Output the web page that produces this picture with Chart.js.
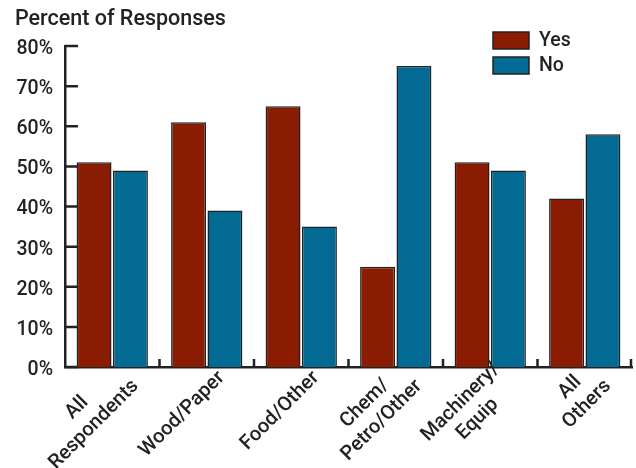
<!DOCTYPE html>
<html>
<head>
<meta charset="utf-8">
<script src="https://cdn.jsdelivr.net/npm/chart.js@4.4.0/dist/chart.umd.min.js"></script>
<style>
  html, body { margin: 0; padding: 0; background: #fff; }
  #caixa { width: 636px; height: 468px; }
</style>
</head>
<body>
<div id="caixa"><canvas id="mychart"></canvas></div>
<script>

let categorias = [['All', 'Respondents'], ['Wood/Paper'], ['Food/Other'], ['Chem/', 'Petro/Other'], ['Machinery/', 'Equip'], ['All', 'Others']];
let sim = [51, 61, 65, 25, 51, 42];
let nao = [49, 39, 35, 75, 49, 58];
let y_max = 80;
let y_passo = 10;

let fonte = 'Roboto, "Liberation Sans", Arial, sans-serif';
let cor_texto = '#222';

// marcas internas, rotulos inclinados, titulo e legenda
const extras = {
    id: 'extras',
    afterDraw(chart) {
        let c = chart.ctx;
        let x = chart.scales.x;
        let y = chart.scales.y;
        let area = chart.chartArea;
        c.save();
        c.strokeStyle = cor_texto;
        c.lineWidth = 2.5;
        c.beginPath();
        y.ticks.forEach(t => {
            let py = y.getPixelForValue(t.value);
            c.moveTo(area.left, py);
            c.lineTo(area.left + 13, py);
        });
        for (let i = 1; i <= categorias.length; i++) {
            let px = i < categorias.length ? (x.getPixelForValue(i - 1) + x.getPixelForValue(i)) / 2 : area.right - 1;
            c.moveTo(px, area.bottom);
            c.lineTo(px, area.bottom - 8);
        }
        c.stroke();

        c.fillStyle = cor_texto;
        c.font = '500 20px ' + fonte;
        categorias.forEach((linhas, i) => {
            let cx = x.getPixelForValue(i);
            c.save();
            c.translate(cx, area.bottom);
            c.rotate(-Math.PI / 4);
            let w = Math.max(...linhas.map(l => c.measureText(l).width));
            c.textAlign = 'center';
            c.textBaseline = 'middle';
            let lh = 24;
            let p0 = 16 - (linhas.length - 1) * lh / 2;
            linhas.forEach((l, k) => c.fillText(l, 5 - w / 2, p0 + k * lh));
            c.restore();
        });

        c.textAlign = 'left';
        c.textBaseline = 'alphabetic';
        c.font = '500 21.5px ' + fonte;
        c.fillText('Percent of Responses', 15, 25);

        c.font = '500 19.5px ' + fonte;
        c.textBaseline = 'middle';
        chart.data.datasets.forEach((ds, k) => {
            let top = 32 + k * 25;
            c.fillStyle = ds.backgroundColor;
            c.fillRect(493, top, 36, 17);
            c.lineWidth = 1.5;
            c.strokeRect(493, top, 36, 17);
            c.fillStyle = cor_texto;
            c.fillText(ds.label, 539, top + 9);
        });
        c.restore();
    }
};

function grafico(ctx) {
    Chart.defaults.font.family = fonte;
    Chart.defaults.font.size = 19.5;
    Chart.defaults.font.weight = 500;
    Chart.defaults.color = cor_texto;

    let datasets = [
        {
            label: 'Yes',
            data: sim,
            backgroundColor: '#8a1c03',
            borderColor: '#222',
            borderWidth: 1.5,
            categoryPercentage: 0.77,
            barPercentage: 0.96
        },
        {
            label: 'No',
            data: nao,
            backgroundColor: '#036a93',
            borderColor: '#222',
            borderWidth: 1.5,
            categoryPercentage: 0.77,
            barPercentage: 0.96
        }
    ];

    return new Chart(ctx, {
        type: 'bar',
        data: { labels: categorias, datasets: datasets },
        plugins: [extras],
        options: {
            responsive: true,
            maintainAspectRatio: false,
            animation: false,
            layout: { padding: { top: 46, right: 4, left: 15, bottom: 0 } },
            plugins: {
                legend: { display: false },
                tooltip: { enabled: false }
            },
            scales: {
                x: {
                    ticks: { display: false },
                    grid: { display: false, drawTicks: false },
                    border: { display: true, color: cor_texto, width: 2.5 },
                    afterFit(scale) { scale.height = 101; }
                },
                y: {
                    min: 0,
                    max: y_max,
                    ticks: {
                        stepSize: y_passo,
                        padding: 12,
                        labelOffset: 3,
                        callback: v => v + '%'
                    },
                    grid: { display: false, drawTicks: false },
                    border: { display: true, color: cor_texto, width: 2.5 },
                    afterFit(scale) { scale.width = 50; }
                }
            }
        }
    });
}

let ctx = document.getElementById('mychart');
let chart = grafico(ctx);
</script>
</body>
</html>
